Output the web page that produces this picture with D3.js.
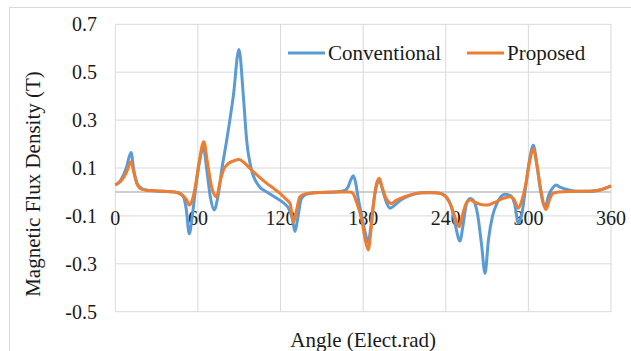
<!DOCTYPE html>
<html>
<head>
<meta charset="utf-8">
<script src="https://cdn.jsdelivr.net/npm/d3@7"></script>
<style>
  body { margin: 0; background: #fff; }
</style>
</head>
<body>
<div id="canvas"></div>
<script>
// tick labels
const xTicks = [0, 60, 120, 180, 240, 300, 360]
const yTicks = [-0.5, -0.3, -0.1, 0.1, 0.3, 0.5, 0.7]

// Conventional (blue)
const convAngle = [0, 4, 8, 11.4, 13.5, 15.8, 19, 22, 30, 40, 46, 49, 51.5, 53.7, 55.5, 58, 61, 64, 66.5, 69, 71.8, 74.5, 77.5, 80.9, 85.7, 89.8, 93, 95.4, 99, 102, 105, 110, 117, 122, 126, 128.5, 130.5, 132.5, 135, 138, 142, 150, 160, 166, 169, 171, 172.9, 174.5, 176.5, 179, 181.5, 183.7, 185.5, 187.5, 189.5, 191.7, 194, 197, 199.5, 203, 207, 214, 222, 232, 237, 241, 244, 247, 250.3, 252.5, 255, 257.6, 260, 263, 266, 268.5, 271, 274, 277, 280, 283, 287, 290, 292.7, 295, 298, 301, 303.6, 306, 309, 312, 315, 318, 320, 323, 328, 335, 345, 352, 360]
const convFlux = [0.029, 0.05, 0.10, 0.165, 0.09, 0.036, 0.015, 0.008, 0.004, 0.001, -0.003, -0.015, -0.07, -0.175, -0.12, 0.0, 0.12, 0.185, 0.09, -0.02, -0.075, -0.02, 0.1, 0.216, 0.40, 0.595, 0.40, 0.216, 0.09, 0.045, 0.02, 0.0, -0.025, -0.045, -0.07, -0.11, -0.165, -0.11, -0.03, -0.012, -0.005, -0.002, 0.0, 0.005, 0.02, 0.05, 0.068, 0.04, -0.03, -0.1, -0.17, -0.21, -0.15, -0.05, 0.02, 0.05, 0.01, -0.045, -0.068, -0.055, -0.035, -0.015, -0.003, -0.003, -0.008, -0.025, -0.06, -0.14, -0.205, -0.14, -0.05, -0.027, -0.035, -0.09, -0.22, -0.34, -0.2, -0.1, -0.05, -0.02, -0.01, -0.015, -0.05, -0.13, -0.1, 0.02, 0.14, 0.195, 0.12, 0.0, -0.062, -0.01, 0.02, 0.029, 0.02, 0.01, 0.003, 0.003, 0.008, 0.025]

// Proposed (orange)
const propAngle = [0, 4, 8, 11.4, 13.5, 16, 19, 25, 35, 43, 47, 50, 52, 53.7, 55.5, 58, 61, 64.3, 67, 70, 73.5, 76, 78.4, 82, 86, 89.8, 94, 97.8, 104, 110, 115, 119.6, 124, 126.9, 129.5, 131.5, 134, 138, 145, 160, 170, 172.5, 175, 179, 181.5, 183.7, 185.5, 187.5, 189.5, 191.7, 194, 197, 200.7, 204, 210, 218, 228, 236, 240, 244, 247, 249.8, 252, 255, 257.6, 262, 266, 270, 275, 281.8, 286.6, 289.5, 292.7, 295, 298, 301, 303.6, 306, 309, 312.8, 315.5, 318, 322, 330, 345, 352, 360]
const propFlux = [0.029, 0.045, 0.08, 0.126, 0.08, 0.03, 0.012, 0.006, 0.003, 0.0, -0.008, -0.02, -0.035, -0.055, -0.04, 0.02, 0.13, 0.21, 0.12, 0.02, -0.02, 0.04, 0.09, 0.118, 0.13, 0.136, 0.12, 0.098, 0.065, 0.036, 0.015, -0.006, -0.03, -0.048, -0.125, -0.08, -0.02, -0.008, -0.003, 0.0, 0.0, -0.005, -0.04, -0.117, -0.2, -0.242, -0.17, -0.05, 0.03, 0.057, 0.015, -0.03, -0.048, -0.035, -0.02, -0.007, -0.002, -0.006, -0.02, -0.06, -0.11, -0.145, -0.1, -0.045, -0.034, -0.045, -0.053, -0.055, -0.045, -0.027, -0.02, -0.03, -0.068, -0.04, 0.03, 0.13, 0.18, 0.12, 0.01, -0.073, -0.03, -0.005, 0.0, 0.002, 0.003, 0.008, 0.025]

const width = 631
const height = 351
const plot = { left: 115.3, right: 611, top: 24.3, bottom: 311.7 }
const serif = "'Liberation Serif', 'Times New Roman', Times, 'DejaVu Serif', serif"

const svg = d3.select('#canvas').append('svg')
  .attr('width', width)
  .attr('height', height)
  .attr('font-family', serif)

// borde del grafico
svg.append('rect')
  .attr('x', 9.5).attr('y', 7.5)
  .attr('width', 630).attr('height', 350)
  .attr('fill', 'none')
  .attr('stroke', '#d9d9d9')

const x = d3.scaleLinear().domain([0, 360]).range([plot.left, plot.right])
const y = d3.scaleLinear().domain([-0.5, 0.7]).range([plot.bottom, plot.top])

// grid
svg.append('g').selectAll('line').data(yTicks).enter().append('line')
  .attr('x1', plot.left).attr('x2', plot.right)
  .attr('y1', (d) => y(d)).attr('y2', (d) => y(d))
  .attr('stroke', '#d9d9d9')
svg.append('g').selectAll('line').data(xTicks).enter().append('line')
  .attr('x1', (d) => x(d)).attr('x2', (d) => x(d))
  .attr('y1', plot.top).attr('y2', plot.bottom)
  .attr('stroke', '#d9d9d9')

// eje x en cero
svg.append('line')
  .attr('x1', plot.left).attr('x2', plot.right)
  .attr('y1', y(0)).attr('y2', y(0))
  .attr('stroke', '#bfbfbf')
  .attr('stroke-width', 1.5)

// tick labels
svg.append('g').selectAll('text').data(yTicks).enter().append('text')
  .attr('x', 97)
  .attr('y', (d) => y(d))
  .attr('dy', '0.35em')
  .attr('text-anchor', 'end')
  .attr('fill', '#1a1a1a')
  .style('font-family', serif)
  .style('font-size', '20px')
  .text((d) => d.toFixed(1))

svg.append('g').selectAll('text').data(xTicks).enter().append('text')
  .attr('x', (d) => x(d))
  .attr('y', y(0) + 26)
  .attr('dy', '0.35em')
  .attr('text-anchor', 'middle')
  .attr('fill', '#1a1a1a')
  .style('font-family', serif)
  .style('font-size', '20px')
  .text((d) => d)

// lineas
const series = [
  { angle: convAngle, flux: convFlux, color: '#5b9bd5' },
  { angle: propAngle, flux: propFlux, color: '#ed7d31' },
]
const line = d3.line()
  .x((d) => x(d[0]))
  .y((d) => y(d[1]))
  .curve(d3.curveMonotoneX)

series.forEach((s) => {
  svg.append('path')
    .datum(d3.zip(s.angle, s.flux))
    .attr('d', line)
    .attr('fill', 'none')
    .attr('stroke', s.color)
    .attr('stroke-width', 3)
    .attr('stroke-linejoin', 'round')
})

// leyenda
const legend = [
  { name: 'Conventional', color: '#5b9bd5', x: 288 },
  { name: 'Proposed', color: '#ed7d31', x: 467 },
]
legend.forEach((l) => {
  svg.append('line')
    .attr('x1', l.x).attr('x2', l.x + 37)
    .attr('y1', 53).attr('y2', 53)
    .attr('stroke', l.color)
    .attr('stroke-width', 3)
  svg.append('text')
    .attr('x', l.x + 40)
    .attr('y', 53)
    .attr('dy', '0.35em')
    .attr('fill', '#1a1a1a')
    .style('font-family', serif)
    .style('font-size', '21px')
    .text(l.name)
})

// titulos de ejes
svg.append('text')
  .attr('x', (plot.left + plot.right) / 2)
  .attr('y', 340)
  .attr('dy', '0.35em')
  .attr('text-anchor', 'middle')
  .attr('fill', '#1a1a1a')
  .style('font-family', serif)
  .style('font-size', '21px')
  .text('Angle (Elect.rad)')

svg.append('text')
  .attr('transform', 'translate(33,184) rotate(-90)')
  .attr('dy', '0.35em')
  .attr('text-anchor', 'middle')
  .attr('fill', '#1a1a1a')
  .style('font-family', serif)
  .style('font-size', '21px')
  .text('Magnetic Flux Density (T)')
</script>
</body>
</html>
